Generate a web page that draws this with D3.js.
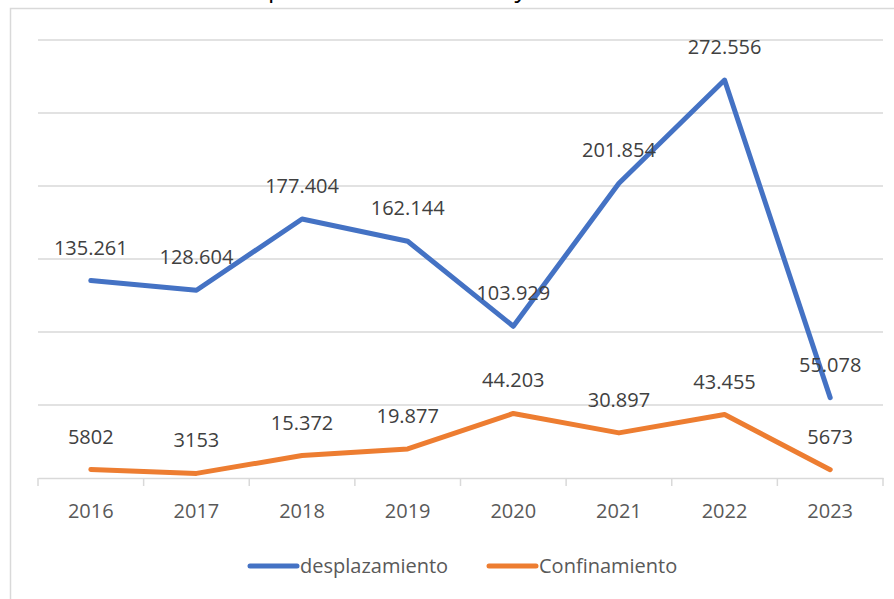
<!DOCTYPE html>
<html>
<head>
<meta charset="utf-8">
<script src="https://cdn.jsdelivr.net/npm/d3@7"></script>
<style>
  body { margin: 0; background: #fff; }
  svg { display: block; font-family: "Open Sans", sans-serif; }
</style>
</head>
<body>
<div id="chart"></div>
<script>
(function() {

// data
var years = ["2016", "2017", "2018", "2019", "2020", "2021", "2022", "2023"];
var desplazamiento = [135261, 128604, 177404, 162144, 103929, 201854, 272556, 55078];
var confinamiento  = [5802, 3153, 15372, 19877, 44203, 30897, 43455, 5673];
var desplazamientoLabels = ["135.261", "128.604", "177.404", "162.144", "103.929", "201.854", "272.556", "55.078"];
var confinamientoLabels  = ["5802", "3153", "15.372", "19.877", "44.203", "30.897", "43.455", "5673"];
var gridValues = [0, 50000, 100000, 150000, 200000, 250000, 300000];
var seriesNames = ["desplazamiento", "Confinamiento"];
var colors = ["#4472C4", "#ED7D31"];

var width = 894, height = 599;
var plot = {left: 38, right: 883, top: 40, bottom: 478};

var svg = d3.select("#chart").append("svg")
            .attr("width", width)
            .attr("height", height);

// chart area border (continues past the right and bottom edges)
svg.append("rect")
   .attr("x", 10.5)
   .attr("y", 8.5)
   .attr("width", 1000)
   .attr("height", 700)
   .attr("fill", "#fff")
   .attr("stroke", "#d9d9d9")
   .attr("stroke-width", 1.5);

// title, mostly cut off by the top edge (as in the screenshot)
var title = svg.append("text")
               .text("Víctimas de desplazamiento forzado y confinamiento")
               .attr("font-size", 25)
               .attr("fill", "#000")
               .attr("y", -3);
var pIndex = title.text().indexOf("p");
title.attr("x", 0);
var pPos = title.node().getStartPositionOfChar(pIndex).x;
title.attr("x", 268 - pPos);

var x = d3.scaleBand()
          .domain(years)
          .range([plot.left, plot.right])
          .padding(0);

var y = d3.scaleLinear()
          .domain([0, 300000])
          .range([plot.bottom, plot.top]);

var cx = function(year) { return x(year) + x.bandwidth() / 2; };

// gridlines
svg.append("g")
   .attr("class", "grid")
   .selectAll("line")
   .data(gridValues.slice(1))
   .join("line")
     .attr("x1", plot.left)
     .attr("x2", plot.right)
     .attr("y1", function(d) { return y(d); })
     .attr("y2", function(d) { return y(d); })
     .attr("stroke", "#d9d9d9")
     .attr("stroke-width", 1.5);

// x axis
var xAxis = d3.axisBottom(x)
              .tickSize(0)
              .tickPadding(26);
var xGroup = svg.append("g")
                .attr("transform", "translate(0," + y(0) + ")")
                .call(xAxis);
xGroup.select(".domain")
      .attr("stroke", "#d9d9d9")
      .attr("stroke-width", 1.5);
xGroup.selectAll("text")
      .attr("font-family", "Open Sans, sans-serif")
      .attr("font-size", 20)
      .attr("fill", "#595959");

// tick marks at the band edges
var edges = years.map(function(d) { return x(d); }).concat([plot.right]);
xGroup.selectAll("line.edge")
      .data(edges)
      .join("line")
        .attr("class", "edge")
        .attr("x1", function(d) { return d; })
        .attr("x2", function(d) { return d; })
        .attr("y1", 0)
        .attr("y2", 8)
        .attr("stroke", "#d9d9d9")
        .attr("stroke-width", 1.5);

var series = [
  {name: seriesNames[0], values: desplazamiento, labels: desplazamientoLabels, color: colors[0]},
  {name: seriesNames[1], values: confinamiento,  labels: confinamientoLabels,  color: colors[1]}
];

var line = d3.line()
             .x(function(d, i) { return cx(years[i]); })
             .y(function(d) { return y(d); });

series.forEach(function(s) {
    svg.append("path")
       .attr("d", line(s.values))
       .attr("fill", "none")
       .attr("stroke", s.color)
       .attr("stroke-width", 5)
       .attr("stroke-linejoin", "round")
       .attr("stroke-linecap", "round");

    svg.append("g")
       .selectAll("text")
       .data(s.values)
       .join("text")
         .attr("x", function(d, i) { return cx(years[i]); })
         .attr("y", function(d) { return y(d) - 26; })
         .attr("text-anchor", "middle")
         .attr("font-size", 20)
         .attr("fill", "#404040")
         .text(function(d, i) { return s.labels[i]; });
});

// legend
var legendItems = [
  {name: seriesNames[0], color: colors[0], x: 248},
  {name: seriesNames[1], color: colors[1], x: 487}
];
var legend = svg.append("g").attr("transform", "translate(0,566)");
legendItems.forEach(function(d) {
    legend.append("line")
          .attr("x1", d.x + 2)
          .attr("x2", d.x + 49)
          .attr("y1", 0)
          .attr("y2", 0)
          .attr("stroke", d.color)
          .attr("stroke-width", 5)
          .attr("stroke-linecap", "round");
    legend.append("text")
          .attr("x", d.x + 52)
          .attr("y", 7)
          .attr("font-size", 20)
          .attr("fill", "#595959")
          .text(d.name);
});

})();
</script>
</body>
</html>
